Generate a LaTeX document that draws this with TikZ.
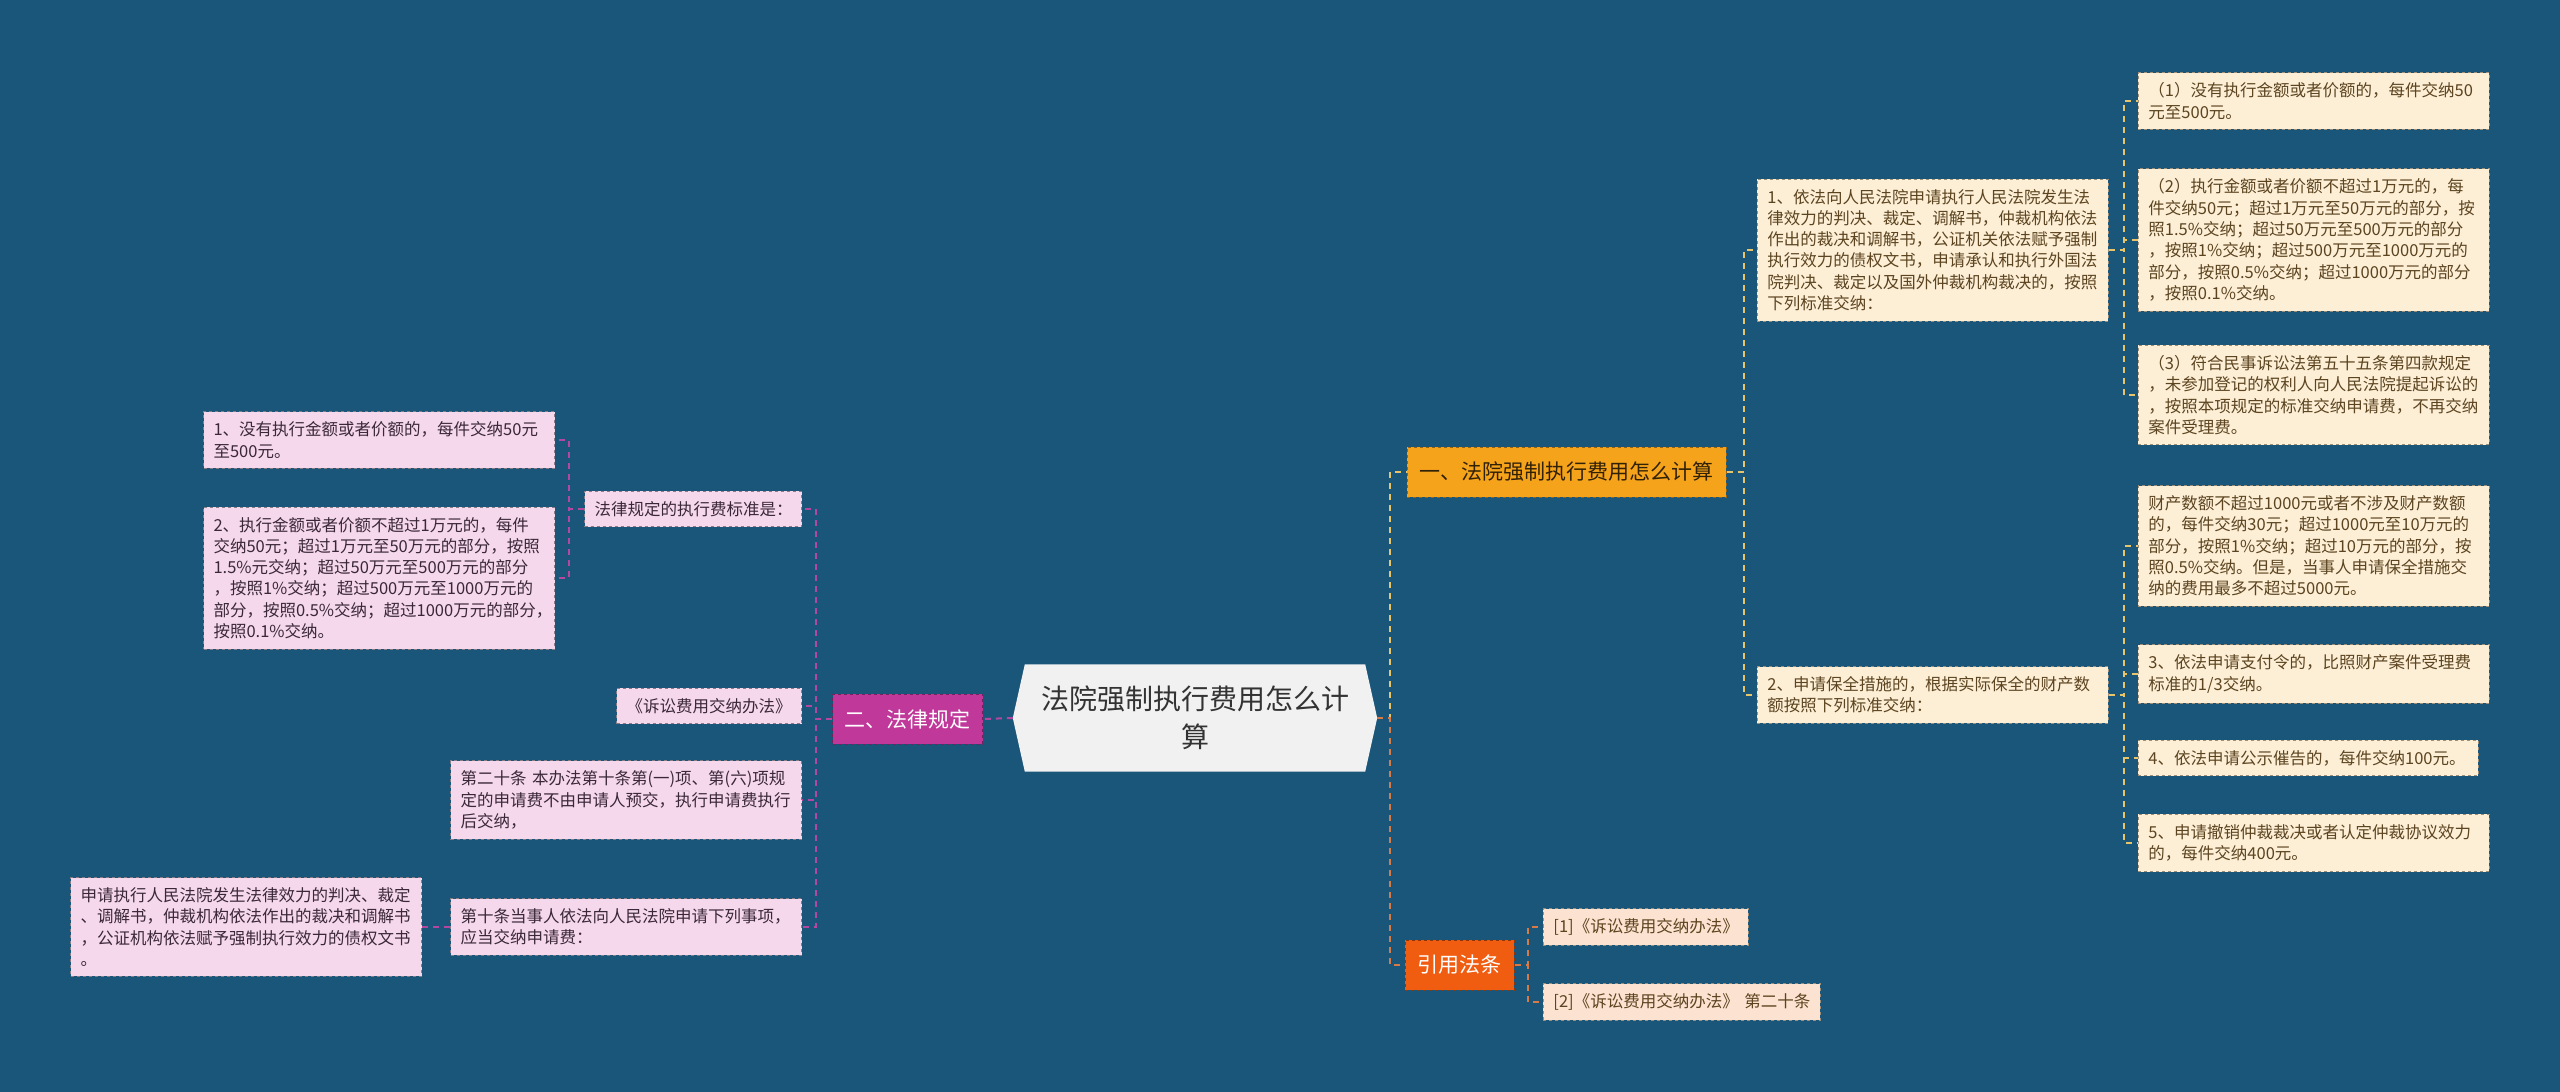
\documentclass[tikz,border=0pt]{standalone}
\usepackage{fontspec}
\setmainfont{Noto Sans CJK SC}
\usetikzlibrary{backgrounds}
\definecolor{MapBg}{RGB}{26,85,122}
\definecolor{CreamFill}{RGB}{253,239,214}
\definecolor{CreamText}{RGB}{92,68,32}
\definecolor{PinkFill}{RGB}{246,216,236}
\definecolor{PinkText}{RGB}{58,40,56}
\definecolor{PeachFill}{RGB}{252,226,208}
\definecolor{BranchOrange}{RGB}{246,163,28}
\definecolor{BranchRed}{RGB}{240,92,16}
\definecolor{BranchPink}{RGB}{192,56,154}
\definecolor{LinkYellow}{RGB}{232,196,106}
\definecolor{LinkPink}{RGB}{180,72,160}
\definecolor{LinkRed}{RGB}{214,122,72}
\definecolor{RootFill}{RGB}{241,241,241}

\begin{document}
\begin{tikzpicture}[x=1pt,y=-1pt,
  box/.style={dashed,line width=0.9pt,font=\fontsize{16.5}{21.3}\selectfont,
              align=left,inner xsep=10pt,inner ysep=10pt},
  cream/.style={box,fill=CreamFill,draw=CreamText!60,text=CreamText},
  pink/.style={box,fill=PinkFill,draw=PinkText!60,text=PinkText},
  peach/.style={box,fill=PeachFill,draw=CreamText!60,text=CreamText},
  branch/.style={fill=#1,draw=#1!60!black,dashed,line width=0.9pt,
                 font=\fontsize{21}{25}\selectfont,minimum height=50pt,
                 inner xsep=11pt,text=white},
  root/.style={font=\fontsize{28}{38}\selectfont,align=center,text=black!80,
               minimum width=340pt,minimum height=107pt},
  link/.style={draw=#1,dashed,dash pattern=on 6pt off 5pt,line width=2pt},
  ylink/.style={link=LinkYellow},
  rlink/.style={link=LinkRed},
  mlink/.style={link=LinkPink},
]
\useasboundingbox (0,0) rectangle (2560,1092);
\begin{scope}[on background layer]
\fill[MapBg] (0,0) rectangle (2560,1092);
\end{scope}

\node[root] (root) at (1195,718) {法院强制执行费用怎么计\\算};
\coordinate (rtip) at ([xshift=12pt]root.east);
\coordinate (ltip) at ([xshift=-12pt]root.west);
\begin{scope}[on background layer]
\fill[RootFill] (root.north west) -- (root.north east) -- (rtip) -- (root.south east)
  -- (root.south west) -- (ltip) -- cycle;
\end{scope}

\node[branch=BranchOrange,text=black!80!BranchOrange,anchor=west,minimum width=319pt] (b1) at (1407,472) {一、法院强制执行费用怎么计算};
\node[branch=BranchRed,anchor=west,minimum width=109pt] (b3) at (1405,965) {引用法条};
\node[branch=BranchPink,anchor=east,minimum width=150pt] (b2) at (983,719) {二、法律规定};

\node[cream,anchor=west,text width=331pt] (r1) at (1757,250) {1、依法向人民法院申请执行人民法院发生法\\律效力的判决、裁定、调解书，仲裁机构依法\\作出的裁决和调解书，公证机关依法赋予强制\\执行效力的债权文书，申请承认和执行外国法\\院判决、裁定以及国外仲裁机构裁决的，按照\\下列标准交纳：};
\node[cream,anchor=west,text width=331pt] (r2) at (1757,695) {2、申请保全措施的，根据实际保全的财产数\\额按照下列标准交纳：};
\node[cream,anchor=west,text width=331pt] (s1) at (2138,101) {（1）没有执行金额或者价额的，每件交纳50\\元至500元。};
\node[cream,anchor=west,text width=331pt] (s2) at (2138,240) {（2）执行金额或者价额不超过1万元的，每\\件交纳50元；超过1万元至50万元的部分，按\\照1.5\%交纳；超过50万元至500万元的部分\\，按照1\%交纳；超过500万元至1000万元的\\部分，按照0.5\%交纳；超过1000万元的部分\\，按照0.1\%交纳。};
\node[cream,anchor=west,text width=331pt] (s3) at (2138,395) {（3）符合民事诉讼法第五十五条第四款规定\\，未参加登记的权利人向人民法院提起诉讼的\\，按照本项规定的标准交纳申请费，不再交纳\\案件受理费。};
\node[cream,anchor=west,text width=331pt] (t1) at (2138,546) {财产数额不超过1000元或者不涉及财产数额\\的，每件交纳30元；超过1000元至10万元的\\部分，按照1\%交纳；超过10万元的部分，按\\照0.5\%交纳。但是，当事人申请保全措施交\\纳的费用最多不超过5000元。};
\node[cream,anchor=west,text width=331pt] (t2) at (2138,674) {3、依法申请支付令的，比照财产案件受理费\\标准的1/3交纳。};
\node[cream,anchor=west,text width=320pt] (t3) at (2138,758) {4、依法申请公示催告的，每件交纳100元。};
\node[cream,anchor=west,text width=331pt] (t4) at (2138,843) {5、申请撤销仲裁裁决或者认定仲裁协议效力\\的，每件交纳400元。};
\node[peach,anchor=west,text width=185pt] (q1) at (1543,927) {[1]《诉讼费用交纳办法》};
\node[peach,anchor=west,text width=257pt] (q2) at (1543,1002) {[2]《诉讼费用交纳办法》~第二十条};

\node[pink,anchor=east,text width=197pt] (e1) at (802,509) {法律规定的执行费标准是：};
\node[pink,anchor=east,text width=165pt,align=center] (e2) at (802,706) {《诉讼费用交纳办法》};
\node[pink,anchor=east,text width=331pt] (e3) at (802,800) {第二十条~本办法第十条第(一)项、第(六)项规\\定的申请费不由申请人预交，执行申请费执行\\后交纳，};
\node[pink,anchor=east,text width=331pt] (e4) at (802,927) {第十条当事人依法向人民法院申请下列事项，\\应当交纳申请费：};
\node[pink,anchor=east,text width=331pt] (f1) at (555,440) {1、没有执行金额或者价额的，每件交纳50元\\至500元。};
\node[pink,anchor=east,text width=331pt] (f2) at (555,578) {2、执行金额或者价额不超过1万元的，每件\\交纳50元；超过1万元至50万元的部分，按照\\1.5\%元交纳；超过50万元至500万元的部分\\，按照1\%交纳；超过500万元至1000万元的\\部分，按照0.5\%交纳；超过1000万元的部分，\\按照0.1\%交纳。};
\node[pink,anchor=east,text width=331pt] (g1) at (422,927) {申请执行人民法院发生法律效力的判决、裁定\\、调解书，仲裁机构依法作出的裁决和调解书\\，公证机构依法赋予强制执行效力的债权文书\\。};

\draw[ylink] (rtip) -- ++(13,0) |- (b1.west);
\draw[rlink] (rtip) -- ++(13,0) |- (b3.west);
\draw[mlink] (ltip) -- (b2.east);
\foreach \c in {r1,r2} \draw[ylink] (b1.east) -- ++(17,0) |- (\c.west);
\foreach \c in {s1,s2,s3} \draw[ylink] (r1.east) -- ++(15,0) |- (\c.west);
\foreach \c in {t1,t2,t3,t4} \draw[ylink] (r2.east) -- ++(15,0) |- (\c.west);
\foreach \c in {q1,q2} \draw[rlink] (b3.east) -- ++(13,0) |- (\c.west);
\foreach \c in {e1,e2,e3,e4} \draw[mlink] (b2.west) -- ++(-16,0) |- (\c.east);
\foreach \c in {f1,f2} \draw[mlink] (e1.west) -- ++(-15,0) |- (\c.east);
\draw[mlink] (e4.west) -- (g1.east);
\end{tikzpicture}
\end{document}
